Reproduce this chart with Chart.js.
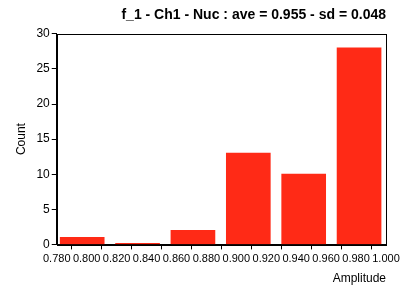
<!DOCTYPE html>
<html>
<head>
<meta charset="utf-8">
<script src="https://cdn.jsdelivr.net/npm/chart.js@4"></script>
<style>
  html, body { margin: 0; padding: 0; background: #fff; }
  #wrap { width: 408px; height: 287px; }
</style>
</head>
<body>
<div id="wrap"><canvas id="myChart" width="408" height="287"></canvas></div>
<script>
// histogram bins (centre of each bar) and counts
const binCenters = [0.797, 0.834, 0.871, 0.908, 0.945, 0.982];
const counts = [1, 0, 2, 13, 10, 28];
const xTicks = [0.78, 0.80, 0.82, 0.84, 0.86, 0.88, 0.90, 0.92, 0.94, 0.96, 0.98, 1.00];
const yTicks = [0, 5, 10, 15, 20, 25, 30];

const font = { family: "Liberation Sans", size: 12 };

// box around the plot area
const frame = {
  id: "frame",
  afterDraw(chart) {
    const a = chart.chartArea;
    const c = chart.ctx;
    c.save();
    c.strokeStyle = "#000";
    c.lineWidth = 1;
    c.strokeRect(Math.round(a.left) + 0.5, Math.round(a.top) + 0.5,
      Math.round(a.right - a.left), Math.round(a.bottom - a.top));
    c.restore();
  }
};

let ctx = document.getElementById("myChart").getContext("2d");
let myChart = new Chart(ctx, {
  type: "bar",
  data: {
    datasets: [
      {
        data: binCenters.map((x, i) => ({ x: x, y: counts[i] })),
        backgroundColor: "rgb(255,42,22)",
        barThickness: 44,
        minBarLength: 1,
      },
    ],
  },
  options: {
    responsive: false,
    animation: false,
    layout: { padding: { left: 14, right: 22, top: 7, bottom: 1 } },
    plugins: {
      legend: { display: false },
      tooltip: { enabled: false },
      title: {
        display: true,
        text: "f_1 - Ch1 - Nuc : ave = 0.955 - sd = 0.048",
        align: "end",
        fullSize: false,
        color: "#000",
        font: { family: "Liberation Sans", size: 14, weight: "bold" },
        padding: { top: 0, bottom: 10 },
      },
    },
    scales: {
      x: {
        type: "linear",
        min: 0.78,
        max: 1.0,
        offset: false,
        afterBuildTicks: (s) => { s.ticks = xTicks.map(v => ({ value: v })); },
        ticks: {
          autoSkip: false,
          maxRotation: 0,
          color: "#000",
          font: { family: "Liberation Sans", size: 11 },
          padding: 3,
          callback: (v) => Number(v).toFixed(3),
        },
        grid: { drawOnChartArea: false, drawTicks: true, tickLength: 5, color: "#000" },
        border: { color: "#000" },
        title: { display: true, text: "Amplitude", align: "end", color: "#000", font: font, padding: { top: 3, bottom: 0 } },
      },
      y: {
        min: 0,
        max: 30,
        afterBuildTicks: (s) => { s.ticks = yTicks.map(v => ({ value: v })); },
        ticks: { color: "#000", font: font, padding: 2 },
        grid: { drawOnChartArea: false, drawTicks: true, tickLength: 5, color: "#000" },
        border: { color: "#000" },
        title: { display: true, text: "Count", color: "#000", font: font, padding: { top: 0, bottom: 6 } },
      },
    },
  },
  plugins: [frame],
});
</script>
</body>
</html>
